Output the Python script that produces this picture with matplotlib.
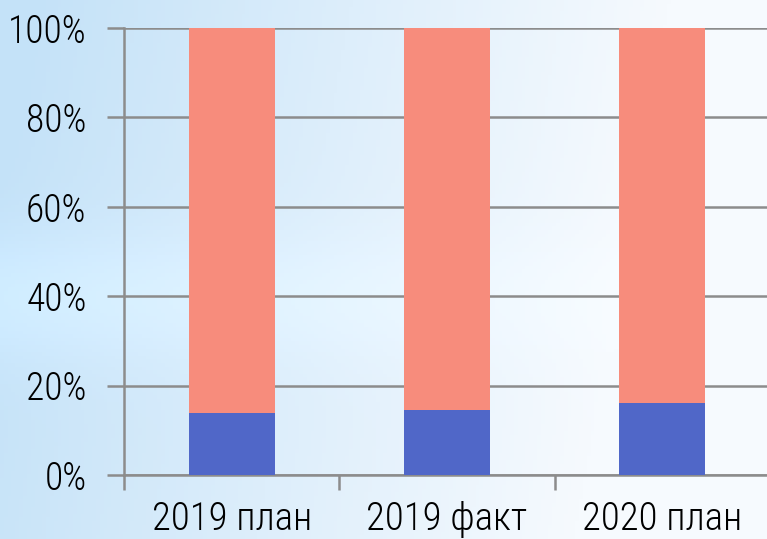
import numpy as np
import matplotlib
matplotlib.use("Agg")
import matplotlib.pyplot as plt
from matplotlib.ticker import FixedLocator, PercentFormatter

categories = ["2019 план", "2019 факт", "2020 план"]
blue_share = [13.9, 14.5, 16.2]
salmon_share = [100 - v for v in blue_share]
y_ticks = [0, 20, 40, 60, 80, 100]

W, H = 767, 539
fig = plt.figure(figsize=(W / 100, H / 100), dpi=100)
FONT = ["Roboto Condensed", "DejaVu Sans"]

# background gradient
bg = fig.add_axes([0, 0, 1, 1], zorder=0)
bg.axis("off")
xx, yy = np.meshgrid(np.linspace(0, 1, 200), np.linspace(0, 1, 150))
left = np.array([196, 226, 248]) / 255
right = np.array([246, 250, 254]) / 255
t = np.clip(xx * 1.2 + (1 - yy) * -0.15 + 0.1, 0, 1)[..., None]
band = np.exp(-((yy - 0.55) / 0.12) ** 2)[..., None] * 0.04
img = left * (1 - t) + right * t
img = np.clip(img + band * (1 - xx[..., None]), 0, 1)
bg.imshow(img, aspect="auto", extent=[0, 1, 0, 1], origin="upper")

ax = fig.add_axes([124 / W, 1 - 475 / H, (770 - 124) / W, (475 - 28) / H], zorder=1)
ax.patch.set_alpha(0)
x = np.arange(len(categories))
ax.bar(x, blue_share, width=0.4, color="#5067C8", zorder=3)
ax.bar(x, salmon_share, bottom=blue_share, width=0.4, color="#F78C7C", zorder=3)

ax.set_xlim(-0.5, len(categories) - 0.5)
ax.set_ylim(0, 100)
gray = "#8c8c8c"
ax.yaxis.set_major_locator(FixedLocator(y_ticks))
ax.yaxis.set_major_formatter(PercentFormatter(decimals=0))
ax.grid(axis="y", color=gray, linewidth=1.8, zorder=1)
ax.set_axisbelow(True)
for s in ["top", "right"]:
    ax.spines[s].set_visible(False)
for s in ["left", "bottom"]:
    ax.spines[s].set_color(gray)
    ax.spines[s].set_linewidth(1.8)
ax.tick_params(axis="y", length=12, width=1.8, color=gray, labelsize=27, pad=15)
ax.set_xticks(x)
ax.set_xticklabels(categories)
ax.set_xticks(np.arange(-0.5, len(categories) - 0.4, 1), minor=True)
ax.tick_params(axis="x", which="major", length=0, labelsize=28, pad=18)
ax.tick_params(axis="x", which="minor", length=11, width=1.8, color=gray)
for lab in ax.get_xticklabels() + ax.get_yticklabels():
    lab.set_fontfamily(FONT)
    lab.set_fontweight(300)

fig.savefig("out.png", dpi=100)
